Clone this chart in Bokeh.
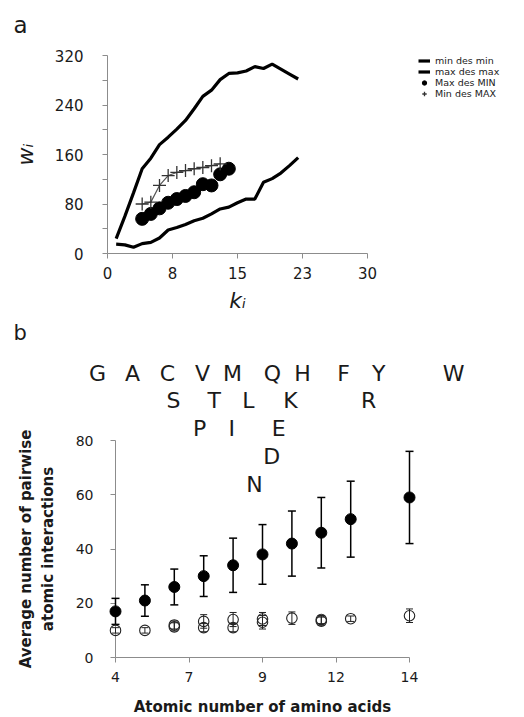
from bokeh.plotting import figure
from bokeh.models import (Range1d, FixedTicker, Legend, LegendItem, ColumnDataSource)
from bokeh.core.properties import value
from bokeh.embed import file_html
from bokeh.resources import INLINE

FONT = "DejaVu Sans"
AXC = "#8c8c8c"
TXT = "#1a1a1a"

# ---------------- panel a data ----------------
k_curve = list(range(1, 23))
w_min_des_min = [15, 14, 10, 16, 18, 25, 38, 42, 47, 53, 57, 64, 72, 75, 82, 88, 88, 115, 121, 130, 142, 155]
w_max_des_max = [24, 60, 98, 137, 154, 176, 188, 201, 215, 234, 254, 264, 281, 291, 292, 295, 302, 299, 306, 298, 290, 282]
k_dots = [4, 5, 6, 7, 8, 9, 10, 11, 12, 13, 14]
w_max_des_MIN = [56, 64, 73, 82, 88, 93, 99, 112, 110, 128, 137]
k_cross = [4, 5, 6, 7, 8, 9, 10, 11, 12, 13]
w_min_des_MAX = [80, 83, 110, 126, 131, 134, 137, 139, 142, 145]
a_xticks = [0, 7.5, 15, 22.5, 30]
a_xlabels = ["0", "8", "15", "23", "30"]
a_yticks = [0, 80, 160, 240, 320]
a_yminor = [40, 120, 200, 280]
a_panel_label = ["a"]
a_panel_xy = ([-10.85], [370])

# ---------------- panel b data ----------------
filled_x = [4, 5, 6, 7, 8, 9, 10, 11, 12, 14]
filled_y = [17, 21, 26, 30, 34, 38, 42, 46, 51, 59]
filled_err = [4.8, 5.8, 6.6, 7.5, 10, 11, 12, 13, 14, 17]
open_x = [4, 5, 6, 6, 7, 7, 8, 8, 9, 9, 10, 11, 11, 12, 14]
open_y = [10, 10, 12, 11.3, 13.3, 11, 14, 11, 14.2, 13, 14.5, 14, 13.4, 14.3, 15.4]
open_err = [1, 1, 1.5, 1.5, 2.5, 1.5, 2.6, 1.5, 2.4, 2.5, 2.3, 1.5, 1.5, 1, 2.5]
b_xticks = [4, 6.5, 9, 11.5, 14]
b_xlabels = ["4", "7", "9", "12", "14"]
b_yticks = [0, 20, 40, 60, 80]
aa_letters = ["G", "A", "C", "V", "M", "Q", "H", "F", "Y", "W",
              "S", "T", "L", "K", "R", "P", "I", "E", "D", "N"]
aa_x = [3.39, 4.58, 5.77, 6.96, 7.98, 9.34, 10.36, 11.76, 12.95, 15.50,
        5.97, 7.36, 8.52, 9.95, 12.61, 6.86, 7.95, 9.55, 9.31, 8.73]
aa_y = [104.8] * 10 + [94.6] * 5 + [84.6] * 3 + [74.0, 63.6]
b_panel_label = ["b"]
b_panel_xy = ([0.53], [119.7])


def style_axes(p, tick_size):
    for ax in (p.xaxis[0], p.yaxis[0]):
        ax.axis_line_color = AXC
        ax.major_tick_line_color = AXC
        ax.minor_tick_line_color = AXC
        ax.major_tick_in = 0
        ax.minor_tick_in = 0
        ax.major_tick_out = 5
        ax.minor_tick_out = 5
        ax.major_label_text_font = FONT
        ax.major_label_text_font_size = tick_size
        ax.major_label_text_color = TXT
        ax.axis_label_text_font = FONT
        ax.axis_label_text_color = TXT
    p.xgrid.visible = False
    p.ygrid.visible = False
    p.outline_line_color = None


# ================= panel a =================
pa = figure(frame_width=260, frame_height=198, min_border_left=107, min_border_right=157,
            min_border_top=55, min_border_bottom=65, x_range=Range1d(0, 30), y_range=Range1d(0, 320),
            output_backend="svg", toolbar_location=None)
style_axes(pa, "15px")
pa.xaxis.ticker = FixedTicker(ticks=a_xticks)
pa.xaxis.major_label_overrides = {t: s for t, s in zip(a_xticks, a_xlabels)}
pa.yaxis.ticker = FixedTicker(ticks=a_yticks, minor_ticks=a_yminor)
pa.xaxis.major_label_standoff = 8
pa.yaxis.major_label_standoff = 19
pa.xaxis.axis_label = "k\u1d62"
pa.yaxis.axis_label = "w\u1d62"
for ax in (pa.xaxis[0], pa.yaxis[0]):
    ax.axis_label_text_font_size = "22px"
    ax.axis_label_text_font_style = "italic"
pa.xaxis.axis_label_standoff = 6
pa.yaxis.axis_label_standoff = 14

r_min = pa.line(k_curve, w_min_des_min, line_color="black", line_width=3.2)
r_max = pa.line(k_curve, w_max_des_max, line_color="black", line_width=3.2)
pa.line(k_cross, w_min_des_MAX, line_color="#555555", line_width=1.2)
r_dots = pa.scatter(k_dots, w_max_des_MIN, marker="circle", size=13, fill_color="black", line_color="black")
r_cross = pa.scatter(k_cross, w_min_des_MAX, marker="cross", size=13, line_color="#333333", line_width=1.3)
pa.text(a_panel_xy[0], a_panel_xy[1], text=a_panel_label, text_font=value(FONT), text_font_size="23px",
        text_color=TXT, text_baseline="alphabetic", level="overlay")

leg = Legend(items=[LegendItem(label="min des min", renderers=[r_min]),
                    LegendItem(label="max des max", renderers=[r_max]),
                    LegendItem(label="Max des MIN", renderers=[r_dots]),
                    LegendItem(label="Min des MAX", renderers=[r_cross])],
             location=(51, 154), padding=0, margin=0, spacing=0,
             glyph_width=12, glyph_height=11, label_height=10, label_standoff=5,
             label_text_font=FONT, label_text_font_size="9.5px", label_text_color=TXT,
             border_line_color=None, background_fill_alpha=0)
pa.add_layout(leg, "right")

# ================= panel b =================
pb = figure(frame_width=294, frame_height=217, min_border_left=115, min_border_right=115,
            min_border_top=122, min_border_bottom=60, x_range=Range1d(4, 14), y_range=Range1d(0, 80),
            output_backend="svg", toolbar_location=None)
style_axes(pb, "14px")
pb.xaxis.ticker = FixedTicker(ticks=b_xticks)
pb.xaxis.major_label_overrides = {t: s for t, s in zip(b_xticks, b_xlabels)}
pb.yaxis.ticker = FixedTicker(ticks=b_yticks)
pb.xaxis.major_label_standoff = 9
pb.yaxis.major_label_standoff = 17
pb.xaxis.axis_label = "Atomic number of amino acids"
pb.yaxis.axis_label = "Average number of pairwise\natomic interactions"
for ax in (pb.xaxis[0], pb.yaxis[0]):
    ax.axis_label_text_font_size = "15px"
    ax.axis_label_text_font_style = "bold"
pb.xaxis.axis_label_standoff = 13
pb.yaxis.axis_label_standoff = 16

src_f = ColumnDataSource(dict(x=filled_x, y=filled_y,
                              lo=[y - e for y, e in zip(filled_y, filled_err)],
                              hi=[y + e for y, e in zip(filled_y, filled_err)]))
src_o = ColumnDataSource(dict(x=open_x, y=open_y,
                              lo=[y - e for y, e in zip(open_y, open_err)],
                              hi=[y + e for y, e in zip(open_y, open_err)]))

for src, lw, cap, col in ((src_f, 1.5, 8, "black"), (src_o, 1.0, 7, "#222222")):
    pb.segment("x", "lo", "x", "hi", source=src, line_color=col, line_width=lw, level="overlay")
    pb.scatter("x", "lo", source=src, marker="dash", size=cap, line_color=col, line_width=lw, level="overlay")
    pb.scatter("x", "hi", source=src, marker="dash", size=cap, line_color=col, line_width=lw, level="overlay")
pb.scatter("x", "y", source=src_f, marker="circle", size=11, fill_color="black", line_color="black",
           level="overlay")
pb.scatter("x", "y", source=src_o, marker="circle", size=10.5, fill_color=None,
           line_color="#222222", line_width=1.1, level="overlay")

pb.text(aa_x, aa_y, text=aa_letters, text_font=value(FONT), text_font_size="22px",
        text_color=TXT, text_align="center", text_baseline="middle", level="overlay")
pb.text(b_panel_xy[0], b_panel_xy[1], text=b_panel_label, text_font=value(FONT), text_font_size="21px",
        text_color=TXT, text_baseline="alphabetic", level="overlay")

open("out.html", "w").write(file_html([pa, pb], INLINE))
